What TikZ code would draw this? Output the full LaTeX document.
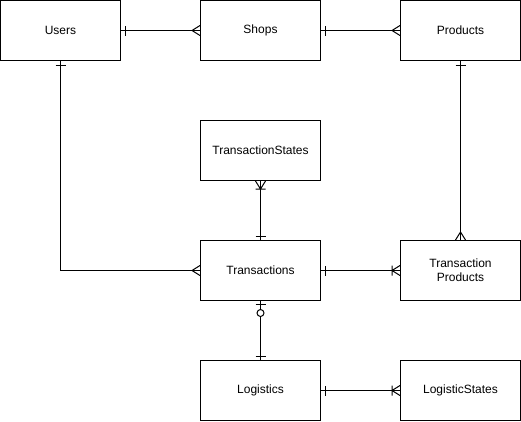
\documentclass[tikz,border=0pt]{standalone}
\usepackage{fontspec}
\setmainfont{Liberation Sans}
\usetikzlibrary{decorations.markings}

\tikzset{
  entity/.style={draw, line width=1pt, minimum width=120pt, minimum height=60pt,
    inner sep=0pt, align=center, font=\fontsize{12pt}{14pt}\selectfont},
  rel/.style={draw, line width=1pt},
  % ends: A = start of the path, B = end of the path
  oneA/.style={postaction={decorate, decoration={markings,
    mark=at position 0 with {\draw[line width=1pt] (4pt,-5pt) -- (4pt,5pt);}}}},
  oneB/.style={postaction={decorate, decoration={markings,
    mark=at position 1 with {\draw[line width=1pt] (-4pt,-5pt) -- (-4pt,5pt);}}}},
  manyB/.style={postaction={decorate, decoration={markings,
    mark=at position 1 with {\draw[line width=1pt] (0,5pt) -- (-8pt,0) -- (0,-5pt);}}}},
  onemanyA/.style={postaction={decorate, decoration={markings,
    mark=at position 0 with {\draw[line width=1pt] (0,5pt) -- (8pt,0) -- (0,-5pt)
      (8pt,-5pt) -- (8pt,5pt);}}}},
  onemanyB/.style={postaction={decorate, decoration={markings,
    mark=at position 1 with {\draw[line width=1pt] (0,5pt) -- (-8pt,0) -- (0,-5pt)
      (-8pt,-5pt) -- (-8pt,5pt);}}}},
  zerooneA/.style={postaction={decorate, decoration={markings,
    mark=at position 0 with {\draw[line width=1pt] (3pt,-5pt) -- (3pt,5pt);
      \draw[line width=1pt, fill=white] (12pt,0) circle (3.5pt);}}}}
}

\begin{document}
\begin{tikzpicture}[x=1pt, y=-1pt]
  \useasboundingbox (0,0) rectangle (521,421);
  % entities
  \node[entity] (users) at (60.5,30.5) {Users};
  \node[entity] (shops) at (260.5,30.5) {Shops};
  \node[entity] (products) at (460.5,30.5) {Products};
  \node[entity] (tstates) at (260.5,150.5) {TransactionStates};
  \node[entity] (trans) at (260.5,270.5) {Transactions};
  \node[entity] (tprod) at (460.5,270.5) {Transaction\\Products};
  \node[entity] (logis) at (260.5,390.5) {Logistics};
  \node[entity] (lstates) at (460.5,390.5) {LogisticStates};
  % relations
  \draw[rel, oneA, manyB] (users) -- (shops);
  \draw[rel, oneA, manyB] (shops) -- (products);
  \draw[rel, oneA, manyB] (products) -- (tprod);
  \draw[rel, onemanyA, oneB] (tstates) -- (trans);
  \draw[rel, oneA, manyB] (users) |- (trans);
  \draw[rel, oneA, onemanyB] (trans) -- (tprod);
  \draw[rel, zerooneA, oneB] (trans) -- (logis);
  \draw[rel, oneA, onemanyB] (logis) -- (lstates);
\end{tikzpicture}
\end{document}
